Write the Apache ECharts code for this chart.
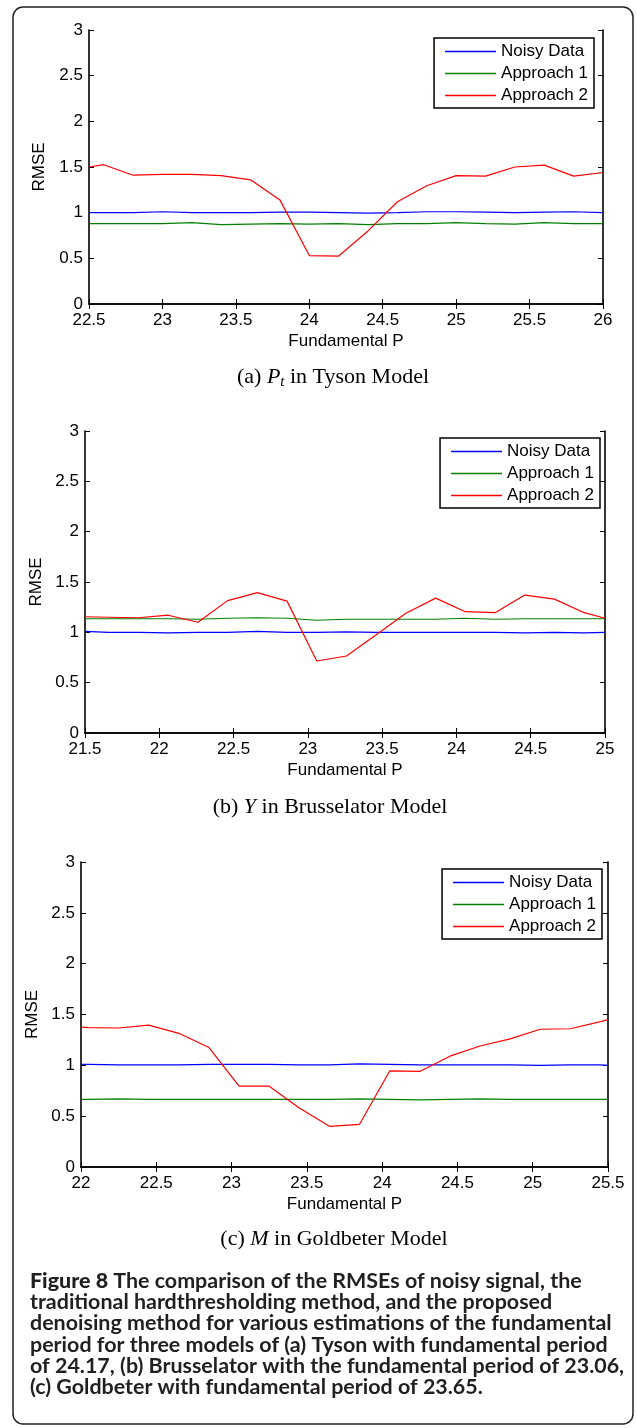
<!DOCTYPE html>
<html><head><meta charset="utf-8">
<script src="https://cdn.jsdelivr.net/npm/echarts@6/dist/echarts.min.js"></script>
<style>html,body{margin:0;padding:0;background:#fff}#c{width:637px;height:1428px}</style>
</head><body><div id="c"></div>
<script>
// ---- data ----
const seriesNames = ['Noisy Data', 'Approach 1', 'Approach 2'];
const yTicks = [0, 0.5, 1, 1.5, 2, 2.5, 3];

// (a) Tyson
const xA = [22.5, 22.6, 22.8, 23.0, 23.2, 23.4, 23.6, 23.8, 24.0, 24.2, 24.4, 24.6, 24.8, 25.0, 25.2, 25.4, 25.6, 25.8, 26.0];
const noisyA = [1.00, 1.00, 1.00, 1.01, 1.00, 1.00, 1.00, 1.005, 1.005, 1.00, 0.995, 1.00, 1.01, 1.01, 1.005, 1.00, 1.005, 1.01, 1.00];
const app1A = [0.88, 0.88, 0.88, 0.88, 0.89, 0.87, 0.875, 0.88, 0.875, 0.88, 0.87, 0.88, 0.88, 0.89, 0.88, 0.875, 0.89, 0.88, 0.88];
const app2A = [1.50, 1.525, 1.41, 1.42, 1.42, 1.405, 1.36, 1.14, 0.53, 0.525, 0.80, 1.12, 1.295, 1.405, 1.40, 1.50, 1.52, 1.40, 1.44];

// (b) Brusselator
const xB = [21.5, 21.66, 21.86, 22.06, 22.26, 22.46, 22.66, 22.86, 23.06, 23.26, 23.46, 23.66, 23.86, 24.06, 24.26, 24.46, 24.66, 24.86, 25.0];
const noisyB = [1.01, 1.0, 1.0, 0.995, 1.0, 1.0, 1.01, 1.0, 1.0, 1.005, 1.0, 1.0, 1.0, 1.0, 1.0, 0.995, 1.0, 0.995, 1.0];
const app1B = [1.135, 1.135, 1.135, 1.135, 1.13, 1.14, 1.145, 1.14, 1.12, 1.13, 1.13, 1.13, 1.13, 1.14, 1.13, 1.135, 1.135, 1.135, 1.135];
const app2B = [1.155, 1.15, 1.145, 1.17, 1.10, 1.315, 1.395, 1.31, 0.715, 0.765, 0.975, 1.19, 1.34, 1.205, 1.195, 1.37, 1.33, 1.195, 1.14];

// (c) Goldbeter
const xC = [22.0, 22.05, 22.25, 22.45, 22.65, 22.85, 23.05, 23.25, 23.45, 23.65, 23.85, 24.05, 24.25, 24.45, 24.65, 24.85, 25.05, 25.25, 25.45, 25.5];
const noisyC = [1.01, 1.01, 1.005, 1.005, 1.005, 1.01, 1.01, 1.01, 1.005, 1.005, 1.015, 1.01, 1.005, 1.005, 1.005, 1.005, 1.0, 1.005, 1.005, 1.0];
const app1C = [0.665, 0.665, 0.67, 0.665, 0.665, 0.665, 0.665, 0.665, 0.665, 0.665, 0.67, 0.665, 0.66, 0.665, 0.67, 0.665, 0.665, 0.665, 0.665, 0.665];
const app2C = [1.375, 1.37, 1.367, 1.395, 1.315, 1.175, 0.795, 0.795, 0.58, 0.40, 0.42, 0.945, 0.94, 1.09, 1.19, 1.26, 1.355, 1.36, 1.43, 1.45];

const xRanges = [[22.5, 26], [21.5, 25], [22, 25.5]];
const subCaptions = [
  ['(a) ', 'P', 't', ' in Tyson Model'],
  ['(b) ', 'Y', '', ' in Brusselator Model'],
  ['(c) ', 'M', '', ' in Goldbeter Model']
];
const captionLines = [
  ['Figure 8', ' The comparison of the RMSEs of noisy signal, the'],
  ['', 'traditional hardthresholding method, and the proposed'],
  ['', 'denoising method for various estimations of the fundamental'],
  ['', 'period for three models of (a) Tyson with fundamental period'],
  ['', 'of 24.17, (b) Brusselator with the fundamental period of 23.06,'],
  ['', '(c) Goldbeter with fundamental period of 23.65.']
];

// ---- layout / style ----
const colors = ['#0000ff', '#008000', '#ff0000'];
const SANS = 'Liberation Sans, Arial, Helvetica, sans-serif';
const SERIF = 'Liberation Serif, Times New Roman, serif';
const CAP = 'Lato, "Open Sans", sans-serif';
const panelData = [
  { x: xA, s: [noisyA, app1A, app2A] },
  { x: xB, s: [noisyB, app1B, app2B] },
  { x: xC, s: [noisyC, app1C, app2C] }
];
const grids = [
  { left: 89, top: 30, width: 514, height: 274 },
  { left: 85, top: 431, width: 520, height: 302 },
  { left: 81, top: 862, width: 527, height: 305 }
];
const legendPos = [{ right: 43, top: 38 }, { right: 37, top: 438 }, { right: 35, top: 869 }];
const subCapPos = [[333, 377], [330, 807], [334, 1239]];

const xAxis = [], yAxis = [], series = [], legend = [];
const tickStyle = { inside: true, length: 5, lineStyle: { color: '#000', width: 1 } };
const lineStyle = { lineStyle: { color: '#000', width: 1.6 } };
const labelStyle = { color: '#000', fontSize: 17, fontFamily: SANS };

panelData.forEach((p, i) => {
  const [mn, mx] = xRanges[i];
  xAxis.push({
    type: 'value', gridIndex: i, position: 'bottom', min: mn, max: mx, interval: 0.5,
    axisLine: lineStyle, axisTick: tickStyle, splitLine: { show: false },
    axisLabel: Object.assign({ margin: 8, showMinLabel: true, showMaxLabel: true }, labelStyle),
    name: 'Fundamental P', nameLocation: 'middle', nameGap: 29,
    nameTextStyle: { color: '#000', fontSize: 17, fontFamily: SANS }
  });
  xAxis.push({
    type: 'value', gridIndex: i, position: 'top', min: mn, max: mx, interval: 0.5,
    axisLine: lineStyle, axisTick: tickStyle, splitLine: { show: false }, axisLabel: { show: false }
  });
  yAxis.push({
    type: 'value', gridIndex: i, position: 'left', min: yTicks[0], max: yTicks[yTicks.length - 1], interval: 0.5,
    axisLine: lineStyle, axisTick: tickStyle, splitLine: { show: false },
    axisLabel: Object.assign({ margin: 6 }, labelStyle),
    name: 'RMSE', nameLocation: 'middle', nameGap: grids[i].left - 48, nameRotate: 90,
    nameTextStyle: { color: '#000', fontSize: 17, fontFamily: SANS }
  });
  yAxis.push({
    type: 'value', gridIndex: i, position: 'right', min: yTicks[0], max: yTicks[yTicks.length - 1], interval: 0.5,
    axisLine: lineStyle, axisTick: tickStyle, splitLine: { show: false }, axisLabel: { show: false }
  });
  p.s.forEach((vals, k) => {
    series.push({
      type: 'line', name: seriesNames[k], xAxisIndex: 2 * i, yAxisIndex: 2 * i,
      data: p.x.map((xv, j) => [xv, vals[j]]),
      symbol: 'none', clip: true, color: colors[k],
      lineStyle: { width: 1.2, color: colors[k] }, z: 2 + k
    });
  });
  legend.push(Object.assign({
    orient: 'vertical', data: seriesNames, icon: 'rect', itemWidth: 51, itemHeight: 1.5,
    itemGap: 5, padding: [5, 6, 4, 11], borderColor: '#000', borderWidth: 1.5,
    backgroundColor: '#fff', selectedMode: false, z: 10,
    textStyle: { color: '#000', fontSize: 17, fontFamily: SANS, lineHeight: 17 }
  }, legendPos[i]));
});

const graphic = [{
  type: 'rect', shape: { x: 13, y: 7, width: 620, height: 1417, r: 10 },
  style: { fill: 'none', stroke: '#222', lineWidth: 1.5 }, z: 0
}];
subCaptions.forEach((c, i) => {
  graphic.push({
    type: 'text', x: subCapPos[i][0], y: subCapPos[i][1],
    style: {
      text: '{n|' + c[0] + '}{i|' + c[1] + '}' + (c[2] ? '{s|' + c[2] + '}' : '') + '{n|' + c[3] + '}',
      align: 'center', verticalAlign: 'middle',
      rich: {
        n: { fontFamily: SERIF, fontSize: 22, fill: '#000', lineHeight: 25 },
        i: { fontFamily: SERIF, fontSize: 22, fontStyle: 'italic', fill: '#000', lineHeight: 25 },
        s: { fontFamily: SERIF, fontSize: 15, fontStyle: 'italic', fill: '#000', lineHeight: 15, verticalAlign: 'bottom' }
      }
    }
  });
});

// size the figure caption so its third line spans the same width as in the reference
const cv = document.createElement('canvas').getContext('2d');
cv.font = 'bold 20px Lato';
const w20 = cv.measureText(captionLines[2][1]).width;
const capSize = Math.max(17, Math.min(23, 20 * 582 / w20));
captionLines.forEach((ln, k) => {
  graphic.push({
    type: 'text', x: 30, y: 1281 + k * 21.2,
    style: {
      text: (ln[0] ? '{b|' + ln[0] + '}' : '') + '{r|' + ln[1] + '}',
      align: 'left', verticalAlign: 'middle',
      rich: {
        b: { fontFamily: CAP, fontSize: capSize, fontWeight: 900, fill: '#231f20', lineHeight: 21 },
        r: { fontFamily: CAP, fontSize: capSize, fontWeight: 'bold', fill: '#231f20', lineHeight: 21 }
      }
    }
  });
});

const chart = echarts.init(document.getElementById('c'), null, { renderer: 'canvas' });
chart.setOption({
  animation: false, backgroundColor: '#fff',
  grid: grids, xAxis, yAxis, series, legend, graphic
});
</script></body></html>
